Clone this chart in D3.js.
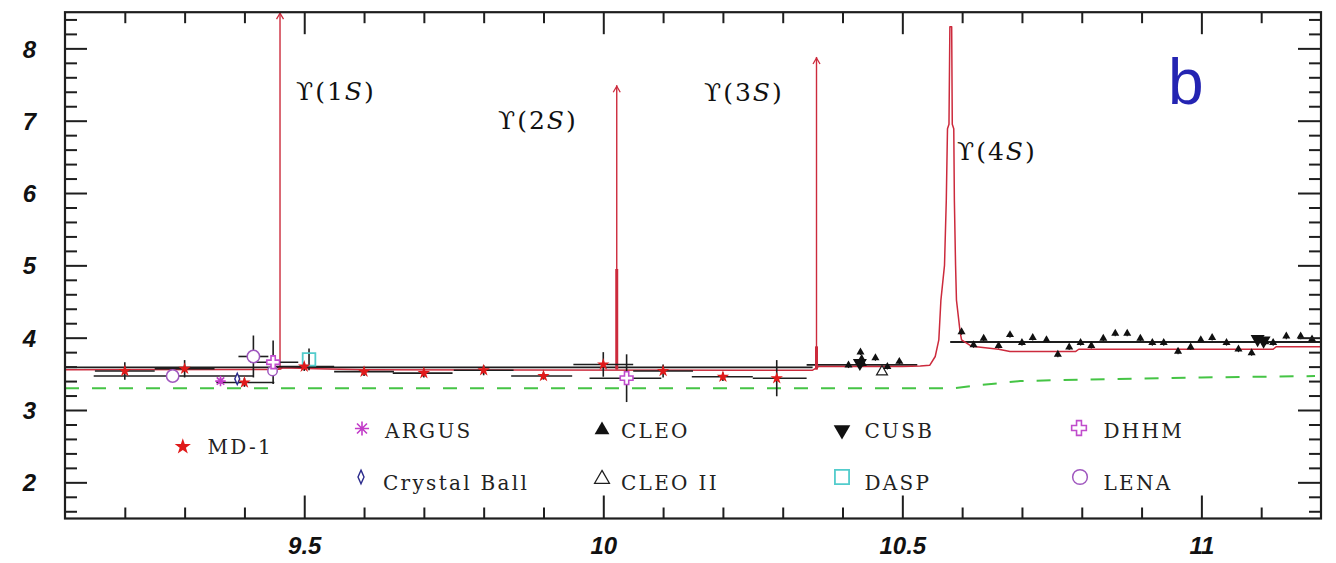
<!DOCTYPE html>
<html>
<head>
<meta charset="utf-8">
<script src="https://cdn.jsdelivr.net/npm/d3@7/dist/d3.min.js"></script>
<style>
  html, body { margin: 0; padding: 0; background: #fff; }
  svg { display: block; }
</style>
</head>
<body>
<svg id="chart" width="1336" height="563"></svg>
<script>
// ---------------- data ----------------
const xDomain = [9.1, 11.2];          // E_cm, GeV
const yDomain = [1.5, 8.5];           // R
const xMajorTicks = [9.5, 10, 10.5, 11];
const xTickLabels = ["9.5", "10", "10.5", "11"];
const yMajorTicks = [2, 3, 4, 5, 6, 7, 8];
const yTickLabels = ["2", "3", "4", "5", "6", "7", "8"];

// MD-1: [E, R, E low, E high, dR]
const md1 = [
  [9.20, 3.54, 9.15, 9.25, 0.12],
  [9.30, 3.57, 9.25, 9.35, 0.12],
  [9.40, 3.38, 9.353, 9.45, 0.06],
  [9.50, 3.60, 9.45, 9.55, 0.06],
  [9.60, 3.53, 9.55, 9.65, 0.06],
  [9.70, 3.51, 9.648, 9.748, 0.06],
  [9.80, 3.55, 9.75, 9.85, 0.07],
  [9.90, 3.47, 9.846, 9.948, 0.05],
  [10.00, 3.63, 9.95, 10.05, 0.17],
  [10.10, 3.54, 10.05, 10.15, 0.09],
  [10.20, 3.46, 10.148, 10.25, 0.06],
  [10.29, 3.44, 10.25, 10.34, 0.25]
];
// [E, R, dR]
const argus = [[9.36, 3.40, 0.04]];
const crystalBall = [[9.388, 3.43, 0.07]];
const dasp = [[9.508, 3.70, 0.15]];
const cusb = [[10.429, 3.65, 0.03], [11.094, 3.98, 0.03], [11.104, 3.96, 0.03]];
const cleo2 = [[10.466, 3.53, 0.04]];
// [E, R, E low, E high, dR]
const lena = [[9.28, 3.47, 9.148, 9.415, 0.05], [9.415, 3.74, 9.39, 9.44, 0.29], [9.447, 3.54, 9.447, 9.447, 0]];
const dhhm = [[9.448, 3.66, 9.41, 9.49, 0.30], [10.039, 3.44, 9.977, 10.097, 0.33]];
// CLEO: [E, R]
const cleo = [
  [10.410, 3.62], [10.430, 3.80], [10.432, 3.71], [10.434, 3.64], [10.455, 3.72],
  [10.475, 3.60], [10.495, 3.67], [10.599, 4.08], [10.619, 3.90], [10.636, 3.99],
  [10.661, 3.89], [10.680, 4.04], [10.700, 3.93], [10.718, 4.00], [10.741, 3.97],
  [10.760, 3.77], [10.779, 3.87], [10.798, 3.93], [10.816, 3.89], [10.836, 3.99],
  [10.856, 4.06], [10.876, 4.06], [10.898, 3.99], [10.918, 3.93], [10.937, 3.93],
  [10.961, 3.81], [10.982, 3.87], [10.999, 3.97], [11.018, 4.00], [11.042, 3.93],
  [11.062, 3.84], [11.084, 3.79], [11.107, 3.94], [11.120, 3.93], [11.142, 4.02],
  [11.166, 4.02], [11.185, 3.98]
];
// averaged R levels: [E from, E to, R]
const avgLevels = [[9.1, 10.35, 3.59], [10.34, 10.525, 3.625], [10.58, 11.2, 3.94]];
// fitted R(E) including the Upsilon(4S) resonance
const fitCurve = [
  [9.10, 3.555], [9.455, 3.56], [9.465, 3.585], [9.52, 3.57], [9.60, 3.555],
  [10.35, 3.55], [10.36, 3.60], [10.50, 3.60], [10.53, 3.61], [10.546, 3.62],
  [10.555, 3.74], [10.561, 3.97], [10.5645, 4.52], [10.5705, 5.0], [10.5735, 5.9],
  [10.5755, 6.89], [10.578, 6.95], [10.5795, 8.30], [10.5825, 8.30], [10.5835, 6.95],
  [10.586, 6.89], [10.587, 5.9], [10.589, 5.0], [10.5905, 4.52], [10.5966, 4.08],
  [10.599, 3.97], [10.616, 3.88], [10.661, 3.84], [10.68, 3.81], [10.79, 3.81],
  [10.795, 3.84], [11.12, 3.84], [11.125, 3.875], [11.2, 3.875]
];
// continuum expectation (dashed)
const continuum = [
  [9.1, 3.30], [10.585, 3.30], [10.63, 3.345], [10.697, 3.40], [10.8, 3.42],
  [10.9, 3.435], [11.0, 3.45], [11.1, 3.46], [11.19, 3.47]
];
// narrow Upsilon states: mass, arrow tip R, thick core R
const narrowMass = [9.4595, 10.0225, 10.3565];
const narrowTop = [8.5, 7.49, 7.88];
const narrowCore = [3.6, 4.95, 3.88];
const stateLabels = ["1", "2", "3", "4"];

const legendNames = ["MD-1", "ARGUS", "Crystal Ball", "CLEO", "CLEO II", "CUSB", "DASP", "DHHM", "LENA"];

// ---------------- layout ----------------
const frame = { left: 65, right: 1321, top: 12.2, bottom: 518.5 };
const svg = d3.select("#chart");
const x = d3.scaleLinear().domain(xDomain).range([frame.left, frame.right]);
const y = d3.scaleLinear().domain(yDomain).range([frame.bottom, frame.top]);

const INK = "#1e1e1e";
const RED = "#cc2a3c";
const colors = {
  md1: "#e01a1a", argus: "#c23cc8", cb: "#2b2b8c", cleo: "#111", cusb: "#111",
  dasp: "#52cccc", dhhm: "#c04ccc", lena: "#a058bf"
};

// custom symbol shapes
const asterisk8 = {
  draw(ctx, size) {
    const r = Math.sqrt(size) / 2, d = r * Math.SQRT1_2;
    ctx.moveTo(-r, 0); ctx.lineTo(r, 0);
    ctx.moveTo(0, -r); ctx.lineTo(0, r);
    ctx.moveTo(-d, -d); ctx.lineTo(d, d);
    ctx.moveTo(-d, d); ctx.lineTo(d, -d);
  }
};
const slimDiamond = {
  draw(ctx, size) {
    const r = Math.sqrt(size) / 2;
    ctx.moveTo(0, -r * 1.25); ctx.lineTo(r * 0.55, 0);
    ctx.lineTo(0, r * 1.25); ctx.lineTo(-r * 0.55, 0); ctx.closePath();
  }
};

const symbolStyles = {
  md1:  { type: d3.symbolStar, fill: colors.md1, stroke: "none", sw: 0, rot: 0 },
  argus:{ type: asterisk8, fill: "none", stroke: colors.argus, sw: 1.6, rot: 0 },
  cb:   { type: slimDiamond, fill: "#fff", stroke: colors.cb, sw: 1.4, rot: 0 },
  cleo: { type: d3.symbolTriangle, fill: colors.cleo, stroke: "none", sw: 0, rot: 0 },
  cleo2:{ type: d3.symbolTriangle, fill: "#fff", stroke: INK, sw: 1.3, rot: 0 },
  cusb: { type: d3.symbolTriangle, fill: colors.cusb, stroke: "none", sw: 0, rot: 180 },
  dasp: { type: d3.symbolSquare, fill: "none", stroke: colors.dasp, sw: 1.8, rot: 0 },
  dhhm: { type: d3.symbolCross, fill: "#fff", stroke: colors.dhhm, sw: 1.6, rot: 0 },
  lena: { type: d3.symbolCircle, fill: "#fff", stroke: colors.lena, sw: 1.5, rot: 0 }
};

function drawSymbol(g, key, cx, cy, size) {
  const s = symbolStyles[key];
  g.append("path")
    .attr("d", d3.symbol().type(s.type).size(size)())
    .attr("transform", `translate(${cx},${cy}) rotate(${s.rot})`)
    .attr("fill", s.fill)
    .attr("stroke", s.stroke)
    .attr("stroke-width", s.sw)
    .attr("stroke-linejoin", "miter");
}

const plot = svg.append("g");
const line = d3.line().x(d => x(d[0])).y(d => y(d[1]));

// continuum (green dashed)
plot.append("path").attr("d", line(continuum))
  .attr("fill", "none").attr("stroke", "#45c445").attr("stroke-width", 2)
  .attr("stroke-dasharray", "14,13");

// averaged levels (black)
plot.selectAll(".avg").data(avgLevels).join("line")
  .attr("x1", d => x(d[0])).attr("x2", d => x(d[1]))
  .attr("y1", d => y(d[2])).attr("y2", d => y(d[2]))
  .attr("stroke", INK).attr("stroke-width", 1.8);

// fitted curve (red)
plot.append("path").attr("d", line(fitCurve))
  .attr("fill", "none").attr("stroke", RED).attr("stroke-width", 1.5)
  .attr("stroke-linejoin", "round");

// narrow resonances with arrows
narrowMass.forEach((m, i) => {
  const base = 3.56;
  plot.append("line")
    .attr("x1", x(m)).attr("x2", x(m)).attr("y1", y(base)).attr("y2", y(narrowTop[i]))
    .attr("stroke", RED).attr("stroke-width", 1.4);
  plot.append("line")
    .attr("x1", x(m)).attr("x2", x(m)).attr("y1", y(base)).attr("y2", y(narrowCore[i]))
    .attr("stroke", RED).attr("stroke-width", 3);
  const tx = x(m), ty = y(narrowTop[i]) + 1;
  plot.append("path")
    .attr("d", `M${tx - 3.5},${ty + 6}L${tx},${ty}L${tx + 3.5},${ty + 6}`)
    .attr("fill", "none").attr("stroke", RED).attr("stroke-width", 1.3);
});

// error bars
function errBars(data, hasH) {
  data.forEach(d => {
    const [E, R] = d;
    const dR = hasH ? d[4] : d[2];
    if (dR > 0) {
      plot.append("line").attr("x1", x(E)).attr("x2", x(E))
        .attr("y1", y(R - dR)).attr("y2", y(R + dR))
        .attr("stroke", INK).attr("stroke-width", 1.6);
    }
    if (hasH && d[3] > d[2]) {
      plot.append("line").attr("x1", x(d[2])).attr("x2", x(d[3]))
        .attr("y1", y(R)).attr("y2", y(R))
        .attr("stroke", INK).attr("stroke-width", 1.6);
    }
  });
}
errBars(md1, true);
errBars(lena, true);
errBars(dhhm, true);
errBars(argus, false);
errBars(crystalBall, false);
errBars(dasp, false);
errBars(cusb, false);
errBars(cleo2, false);
cleo.forEach(d => {
  plot.append("line").attr("x1", x(d[0])).attr("x2", x(d[0]))
    .attr("y1", y(d[1] - 0.04)).attr("y2", y(d[1] + 0.04))
    .attr("stroke", INK).attr("stroke-width", 1.2);
});

// markers
lena.forEach(d => drawSymbol(plot, "lena", x(d[0]), y(d[1]), d[4] > 0 ? 120 : 70));
dhhm.forEach(d => drawSymbol(plot, "dhhm", x(d[0]), y(d[1]), 90));
argus.forEach(d => drawSymbol(plot, "argus", x(d[0]), y(d[1]), 110));
crystalBall.forEach(d => drawSymbol(plot, "cb", x(d[0]), y(d[1]), 80));
dasp.forEach(d => drawSymbol(plot, "dasp", x(d[0]), y(d[1]), 160));
md1.forEach(d => drawSymbol(plot, "md1", x(d[0]), y(d[1]), 48));
cusb.forEach(d => drawSymbol(plot, "cusb", x(d[0]), y(d[1]), 85));
cleo2.forEach(d => drawSymbol(plot, "cleo2", x(d[0]), y(d[1]), 50));
cleo.forEach(d => drawSymbol(plot, "cleo", x(d[0]), y(d[1]), 28));

// resonance labels
const stateLabelPos = [[296, 100], [498, 128.5], [704, 101], [957, 160]];
stateLabels.forEach((n, i) => {
  const t = svg.append("text")
    .attr("x", stateLabelPos[i][0]).attr("y", stateLabelPos[i][1])
    .attr("font-family", "DejaVu Serif").attr("font-size", 25)
    .attr("letter-spacing", 2).attr("fill", "#111");
  t.append("tspan").text("\u03D2(" + n);
  t.append("tspan").attr("font-style", "italic").text("S");
  t.append("tspan").text(")");
});

// panel letter
svg.append("text").attr("x", 1168).attr("y", 103.5)
  .attr("font-family", "Liberation Sans, Arial, sans-serif").attr("font-size", 64)
  .attr("fill", "#2424b2").text("b");

// legend
const legendKeys = ["md1", "argus", "cb", "cleo", "cleo2", "cusb", "dasp", "dhhm", "lena"];
const legendSymPos = [[182.8, 446.7], [362, 428.5], [361, 477], [602, 430], [602, 479], [842, 430], [842, 477], [1079, 428], [1080, 477]];
const legendTextPos = [[207.5, 454], [385, 437.5], [383, 490], [621, 437.5], [621, 490], [864.5, 437.5], [864.5, 490], [1103.5, 437.5], [1103.5, 490]];
const legendSizes = [82, 200, 120, 95, 95, 120, 200, 120, 170];
const lg = svg.append("g");
legendNames.forEach((name, i) => {
  drawSymbol(lg, legendKeys[i], legendSymPos[i][0], legendSymPos[i][1], legendSizes[i]);
  lg.append("text").attr("x", legendTextPos[i][0]).attr("y", legendTextPos[i][1])
    .attr("font-family", "DejaVu Serif").attr("font-size", 20)
    .attr("letter-spacing", 2.3).attr("fill", "#222").text(name);
});

// axes: ticks on all four sides, pointing inward
const xMinor = x.ticks(21).filter(v => !xMajorTicks.some(m => Math.abs(m - v) < 1e-6) && v > xDomain[0] + 1e-6 && v < xDomain[1] - 1e-6);
const yMinor = y.ticks(35).filter(v => !yMajorTicks.some(m => Math.abs(m - v) < 1e-6) && v > yDomain[0] + 1e-6 && v < yDomain[1] - 1e-6);

function styleAxis(g) {
  g.select(".domain").remove();
  g.selectAll(".tick line").attr("stroke", INK).attr("stroke-width", 2);
}
const tickFont = g => g.selectAll("text")
  .attr("font-family", "Liberation Sans, Arial, sans-serif")
  .attr("font-size", 24).attr("font-weight", "bold").attr("font-style", "italic")
  .attr("fill", "#111");

svg.append("g").attr("transform", `translate(0,${frame.bottom})`)
  .call(d3.axisBottom(x).tickValues(xMajorTicks).tickSize(-23).tickFormat((d, i) => xTickLabels[i]))
  .call(styleAxis).call(tickFont)
  .call(g => g.selectAll("text").attr("y", 35).attr("dy", 0));
svg.append("g").attr("transform", `translate(0,${frame.bottom})`)
  .call(d3.axisBottom(x).tickValues(xMinor).tickSize(-11).tickFormat(""))
  .call(styleAxis);
svg.append("g").attr("transform", `translate(0,${frame.top})`)
  .call(d3.axisTop(x).tickValues(xMajorTicks).tickSize(-22).tickFormat(""))
  .call(styleAxis);
svg.append("g").attr("transform", `translate(0,${frame.top})`)
  .call(d3.axisTop(x).tickValues(xMinor).tickSize(-11).tickFormat(""))
  .call(styleAxis);
svg.append("g").attr("transform", `translate(${frame.left},0)`)
  .call(d3.axisLeft(y).tickValues(yMajorTicks).tickSize(-22).tickPadding(29).tickFormat((d, i) => yTickLabels[i]))
  .call(styleAxis).call(tickFont)
  .call(g => g.selectAll("text").attr("dy", "0.36em"));
svg.append("g").attr("transform", `translate(${frame.left},0)`)
  .call(d3.axisLeft(y).tickValues(yMinor).tickSize(-12).tickFormat(""))
  .call(styleAxis);
svg.append("g").attr("transform", `translate(${frame.right},0)`)
  .call(d3.axisRight(y).tickValues(yMajorTicks).tickSize(-23).tickFormat(""))
  .call(styleAxis);
svg.append("g").attr("transform", `translate(${frame.right},0)`)
  .call(d3.axisRight(y).tickValues(yMinor).tickSize(-12).tickFormat(""))
  .call(styleAxis);

// frame
svg.append("rect")
  .attr("x", frame.left).attr("y", frame.top)
  .attr("width", frame.right - frame.left).attr("height", frame.bottom - frame.top)
  .attr("fill", "none").attr("stroke", INK).attr("stroke-width", 2.2);
</script>
</body>
</html>
